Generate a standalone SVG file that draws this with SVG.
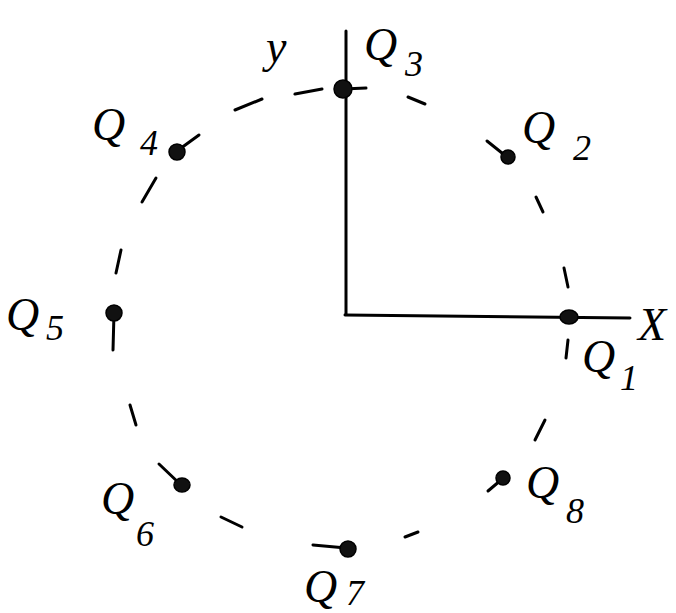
<svg xmlns="http://www.w3.org/2000/svg" width="676" height="613" viewBox="0 0 676 613">
<style>
.ax{stroke:#000;stroke-width:3;stroke-linecap:round;fill:none}
.d{stroke:#000;stroke-width:3;stroke-linecap:round;fill:none}
.t{stroke:#000;stroke-width:3;stroke-linecap:round}
.p{fill:#111;stroke:#000;stroke-width:1.5}
.q{font-family:"Liberation Serif",serif;font-style:italic;font-size:46px;fill:#000}
.s{font-family:"Liberation Serif",serif;font-style:italic;font-size:36px;fill:#000}
</style>
<rect width="676" height="613" fill="#fff"/>
<g id="axes">
<line class="ax" x1="346" y1="31" x2="346" y2="314"/>
<line class="ax" x1="345" y1="315" x2="630" y2="318"/>
<text class="q" x="266" y="62" font-size="56">y</text>
<text class="q" x="638" y="340" font-size="50">X</text>
</g>
<g id="connectors">
<line class="d" x1="295" y1="94" x2="322" y2="89"/>
<line class="d" x1="408" y1="97" x2="425" y2="104"/>
<line class="d" x1="235" y1="110" x2="262" y2="99"/>
<line class="d" x1="536" y1="197" x2="543" y2="212"/>
<line class="d" x1="156" y1="178" x2="142" y2="202"/>
<line class="d" x1="121" y1="250" x2="116" y2="273"/>
<line class="d" x1="130" y1="405" x2="136" y2="425"/>
<line class="d" x1="221" y1="517" x2="242" y2="527"/>
<line class="d" x1="405" y1="537" x2="418" y2="532"/>
<line class="d" x1="535" y1="440" x2="545" y2="420"/>
<line class="d" x1="564" y1="268" x2="568" y2="287"/>
<line class="d" x1="568" y1="340" x2="566" y2="358"/>
</g>
<g id="Q1"><ellipse class="p" cx="569" cy="317" rx="9" ry="7"/>
<text class="q" x="582" y="372">Q</text><text class="s" x="620" y="390">1</text></g>
<g id="Q2"><line class="t" x1="507" y1="157" x2="487" y2="141"/><ellipse class="p" cx="508" cy="157" rx="7" ry="7"/>
<text class="q" x="522" y="143">Q</text><text class="s" x="573" y="160">2</text></g>
<g id="Q3"><line class="t" x1="343" y1="89" x2="366" y2="88"/><ellipse class="p" cx="343" cy="89" rx="9" ry="9"/>
<text class="q" x="364" y="60">Q</text><text class="s" x="405" y="76">3</text></g>
<g id="Q4"><line class="t" x1="177" y1="151" x2="199" y2="135"/><ellipse class="p" cx="177" cy="152" rx="8" ry="8"/>
<text class="q" x="92" y="140">Q</text><text class="s" x="140" y="155">4</text></g>
<g id="Q5"><line class="t" x1="114" y1="313" x2="113" y2="350"/><ellipse class="p" cx="114" cy="313" rx="8" ry="8"/>
<text class="q" x="6" y="330">Q</text><text class="s" x="46" y="340">5</text></g>
<g id="Q6"><line class="t" x1="180" y1="484" x2="159" y2="464"/><ellipse class="p" cx="182" cy="485" rx="8" ry="7"/>
<text class="q" x="101" y="514">Q</text><text class="s" x="136" y="546">6</text></g>
<g id="Q7"><line class="t" x1="346" y1="548" x2="313" y2="545"/><ellipse class="p" cx="348" cy="549" rx="8" ry="8"/>
<text class="q" x="304" y="602">Q</text><text class="s" x="346" y="605">7</text></g>
<g id="Q8"><line class="t" x1="501" y1="480" x2="488" y2="491"/><ellipse class="p" cx="503" cy="478" rx="7" ry="7"/>
<text class="q" x="526" y="498">Q</text><text class="s" x="566" y="523">8</text></g>
</svg>
